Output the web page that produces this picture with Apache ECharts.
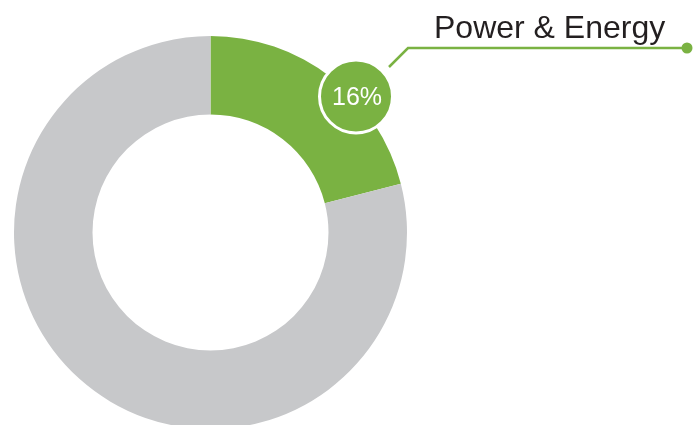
<!DOCTYPE html>
<html>
<head>
<meta charset="utf-8">
<script src="https://cdn.jsdelivr.net/npm/echarts@6/dist/echarts.min.js"></script>
<style>html,body{margin:0;padding:0;background:#fff}#c{width:700px;height:425px}</style>
</head>
<body>
<div id="c"></div>
<script>
// Slice shares as drawn in the picture, and the label printed on the highlighted slice
const categories = ['Power & Energy', 'Other'];
const sliceShares = [21, 79];
const labelTexts = ['16%', ''];
const colors = ['#7AB242', '#C7C8CA'];

const chart = echarts.init(document.getElementById('c'), null, {renderer: 'canvas'});
const green = colors[0];
chart.setOption({
  animation: false,
  backgroundColor: '#ffffff',
  series: [{
    type: 'pie',
    z: 1,
    center: [210.5, 232.5],
    radius: [118, 196.5],
    startAngle: 90,
    clockwise: true,
    silent: true,
    label: {show: false},
    labelLine: {show: false},
    data: categories.map((c, i) => ({name: c, value: sliceShares[i], itemStyle: {color: colors[i]}}))
  }],
  graphic: {
    elements: [
      {type: 'polyline', z: 100, shape: {points: [[389, 67], [408, 48], [687, 48]]}, style: {stroke: green, lineWidth: 2.5, fill: null}},
      {type: 'circle', z: 100, shape: {cx: 687, cy: 48, r: 5.5}, style: {fill: green}},
      {type: 'circle', z: 101, shape: {cx: 356, cy: 96.5, r: 36.5}, style: {fill: green, stroke: '#ffffff', lineWidth: 3}},
      {type: 'text', z: 102, x: 357, y: 98.5, style: {text: labelTexts[0], fill: '#ffffff', font: '25px "Liberation Sans", Arial, sans-serif', align: 'center', verticalAlign: 'middle'}},
      {type: 'text', z: 100, x: 434, y: 29, style: {text: categories[0], fill: '#231F20', font: '32px "Liberation Sans", Arial, sans-serif', align: 'left', verticalAlign: 'middle'}}
    ]
  }
});
</script>
</body>
</html>
